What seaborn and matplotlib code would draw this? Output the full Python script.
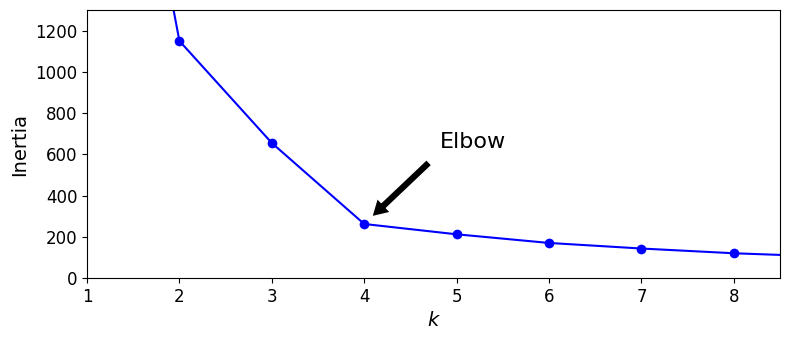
import matplotlib
matplotlib.use("Agg")
import matplotlib.pyplot as plt
import seaborn as sns
import pandas as pd

# inertia values per number of clusters k
ks = [1, 2, 3, 4, 5, 6, 7, 8, 9]
inertias = [3530, 1150, 655, 262, 212, 170, 143, 120, 104]

df = pd.DataFrame({"k": ks, "inertia": inertias})

sns.set_style("ticks", {"text.color": "black", "axes.labelcolor": "black",
                        "xtick.color": "black", "ytick.color": "black",
                        "axes.edgecolor": "black"})
plt.rcParams["font.family"] = ["DejaVu Sans"]

fig = plt.figure(figsize=(7.89, 3.4), dpi=100)
ax = fig.add_axes([87 / 789, 1 - 278 / 340, (780 - 87) / 789, (278 - 10) / 340])

sns.lineplot(data=df, x="k", y="inertia", color="blue", marker="o",
             markersize=7, markeredgewidth=0, linewidth=1.5, ax=ax)

ax.set_xlabel("$k$", fontsize=14)
ax.set_ylabel("Inertia", fontsize=14)
ax.tick_params(labelsize=12)
ax.set_xlim(1, 8.5)
ax.set_ylim(0, 1300)

ax.annotate("Elbow", xy=(4, inertias[3]), xytext=(4.82, 630),
            fontsize=16, color="black",
            arrowprops=dict(facecolor="black", shrink=0.1, width=5.5,
                            headwidth=14, headlength=12))

fig.savefig("out.png", dpi=100)
